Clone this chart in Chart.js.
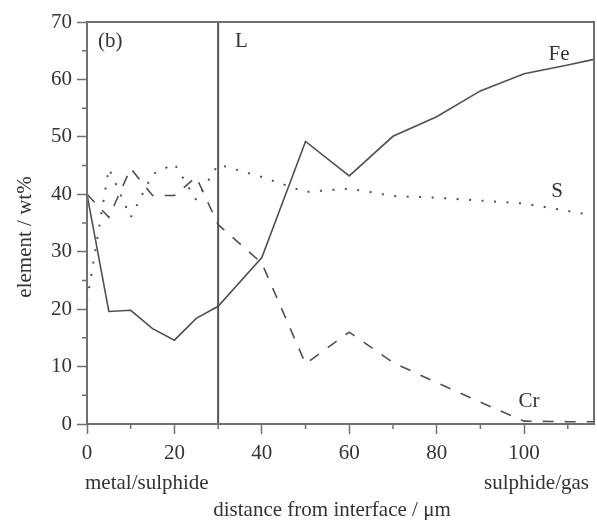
<!DOCTYPE html>
<html lang="en">
<head>
    <meta charset="UTF-8">
    <title>element / wt%</title>
    <script src="https://cdn.jsdelivr.net/npm/chart.js"></script>
    <style>
        body { margin: 0; background: #fff; }
        canvas { display: block; }
    </style>
</head>
<body>
<canvas id="profileChart" width="597" height="520"></canvas>
<script>
    // distances (um) and compositions (wt%)
    const feX = [0, 5, 10, 15, 20, 25, 30, 40, 50, 60, 70, 80, 90, 100, 110, 116];
    const feY = [40, 19.6, 19.8, 16.6, 14.6, 18.4, 20.5, 29, 49.2, 43.2, 50.1, 53.5, 58, 61, 62.5, 63.5];

    const sX = [0, 5, 10, 15, 20, 25, 30, 40, 50, 60, 70, 80, 90, 100, 110, 116];
    const sY = [21.5, 44.5, 36, 43.5, 45.3, 39, 45.2, 43, 40.4, 41, 39.7, 39.4, 38.9, 38.4, 37.1, 36.3];

    const crX = [0, 5, 10, 15, 20, 25, 30, 40, 50, 60, 70, 80, 90, 100, 110, 116];
    const crY = [40, 36, 44.5, 39.8, 39.8, 43, 34.7, 28, 10.5, 16, 10.7, 7.2, 3.8, 0.5, 0.4, 0.4];

    const lineAt = 30;          // position of the "L" marker
    const xMax = 116;
    const yMax = 70;

    const FONT = '"Liberation Serif", "Times New Roman", serif';
    const ink = '#333';
    const lineColor = '#505050';

    function toPoints(xs, ys) {
        return xs.map((v, i) => ({ x: v, y: ys[i] }));
    }

    // frame, L marker, minor ticks and the text labels
    const extras = {
        id: 'extras',
        beforeDatasetsDraw(chart) {
            const { ctx, chartArea: a, scales: { x } } = chart;
            const px = x.getPixelForValue(lineAt);
            ctx.save();
            ctx.strokeStyle = '#555';
            ctx.lineWidth = 2;
            ctx.beginPath();
            ctx.moveTo(px, a.top);
            ctx.lineTo(px, a.bottom);
            ctx.stroke();
            ctx.restore();
        },
        afterDraw(chart) {
            const { ctx, chartArea: a, scales: { x, y } } = chart;
            ctx.save();
            ctx.strokeStyle = '#707070';
            ctx.lineWidth = 2;
            ctx.strokeRect(a.left, a.top, a.right - a.left, a.bottom - a.top);

            // minor ticks
            ctx.lineWidth = 1.5;
            ctx.beginPath();
            for (let v = 5; v < yMax; v += 10) {
                const py = y.getPixelForValue(v);
                ctx.moveTo(a.left - 5, py);
                ctx.lineTo(a.left, py);
            }
            for (let v = 10; v < xMax; v += 20) {
                const px = x.getPixelForValue(v);
                ctx.moveTo(px, a.bottom);
                ctx.lineTo(px, a.bottom + 5);
            }
            ctx.stroke();

            ctx.fillStyle = ink;
            ctx.font = '21px ' + FONT;
            ctx.textBaseline = 'middle';

            ctx.textAlign = 'left';
            ctx.fillText('(b)', a.left + 11, 41);
            ctx.fillText('L', x.getPixelForValue(lineAt) + 17, 41);
            ctx.fillText('metal/sulphide', a.left - 2, 483);

            ctx.textAlign = 'center';
            ctx.fillText('Fe', 559, 54);
            ctx.fillText('S', 557, 191);
            ctx.fillText('Cr', 529, 401);
            ctx.fillText('distance from interface / \u03bcm', 332, 510);

            ctx.textAlign = 'right';
            ctx.fillText('sulphide/gas', 589, 483);

            ctx.translate(25, 237);
            ctx.rotate(-Math.PI / 2);
            ctx.textAlign = 'center';
            ctx.fillText('element / wt%', 0, 0);
            ctx.restore();
        }
    };

    const ctx = document.getElementById('profileChart').getContext('2d');

    new Chart(ctx, {
        type: 'line',
        data: {
            datasets: [
                {
                    label: 'Fe',
                    data: toPoints(feX, feY),
                    borderColor: lineColor,
                    borderWidth: 1.6,
                },
                {
                    label: 'S',
                    data: toPoints(sX, sY),
                    borderColor: lineColor,
                    borderWidth: 2,
                    borderDash: [2, 10.5],
                },
                {
                    label: 'Cr',
                    data: toPoints(crX, crY),
                    borderColor: lineColor,
                    borderWidth: 1.6,
                    borderDash: [11, 11],
                }
            ]
        },
        options: {
            responsive: false,
            animation: false,
            elements: {
                point: { radius: 0 },
                line: { tension: 0, fill: false }
            },
            layout: { padding: { top: 22, right: 3, left: 0, bottom: 0 } },
            plugins: {
                legend: { display: false },
                tooltip: { enabled: false }
            },
            scales: {
                x: {
                    type: 'linear',
                    min: 0,
                    max: xMax,
                    afterFit(scale) {
                        scale.height = 96;
                        scale.paddingLeft = 0;
                        scale.paddingRight = 0;
                    },
                    border: { display: false },
                    grid: {
                        drawOnChartArea: false,
                        tickLength: 10,
                        tickWidth: 1.5,
                        tickColor: (c) => (c.tick && c.tick.value % 20 === 0) ? '#707070' : 'transparent'
                    },
                    ticks: {
                        stepSize: 10,
                        autoSkip: false,
                        maxRotation: 0,
                        padding: 7,
                        color: ink,
                        font: { family: FONT, size: 21 },
                        callback: (v) => v % 20 === 0 ? String(v) : ''
                    }
                },
                y: {
                    min: 0,
                    max: yMax,
                    afterFit(scale) {
                        scale.width = 87;
                        scale.paddingTop = 0;
                        scale.paddingBottom = 0;
                    },
                    border: { display: false },
                    grid: {
                        drawOnChartArea: false,
                        tickLength: 10,
                        tickWidth: 1.5,
                        tickColor: '#707070'
                    },
                    ticks: {
                        stepSize: 10,
                        padding: 5,
                        color: ink,
                        font: { family: FONT, size: 21 }
                    }
                }
            }
        },
        plugins: [extras]
    });
</script>
</body>
</html>
